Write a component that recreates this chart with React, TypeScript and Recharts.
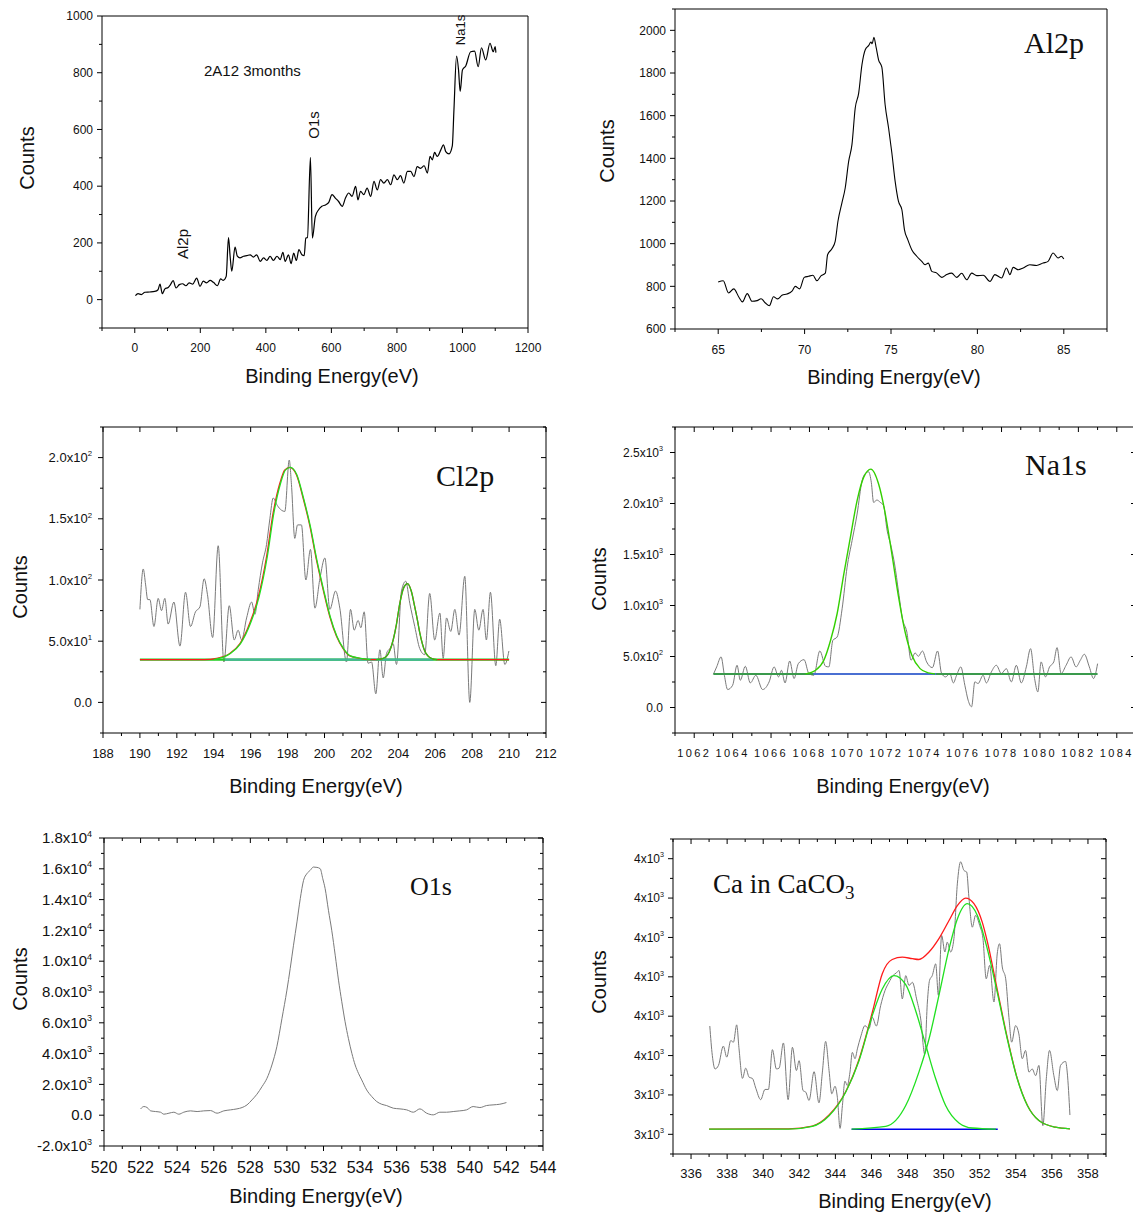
import React from "react";
import { LineChart, Line, XAxis, YAxis } from "recharts";

type Pt = [number, number];

// ---- survey scan (panel 1) ----
const SURVEY: Pt[] = [
  [2, 14], [10, 21], [20, 18], [31, 26], [46, 27], [61, 29], [71, 35], [77, 55], [84, 21], [92, 38],
  [102, 43], [109, 53], [117, 67], [126, 41], [136, 53], [146, 56], [156, 49], [166, 59], [177, 55], [189, 76],
  [199, 47], [209, 65], [219, 59], [230, 68], [240, 61], [252, 49], [262, 73], [270, 68], [279, 82], [286, 219],
  [291, 153], [296, 100], [306, 185], [313, 153], [321, 147], [332, 153], [342, 155], [352, 158], [362, 150], [372, 158],
  [383, 135], [393, 147], [403, 138], [413, 153], [423, 138], [434, 153], [444, 141], [452, 167], [459, 135], [469, 158],
  [477, 127], [485, 164], [493, 138], [501, 176], [510, 158], [517, 155], [522, 217], [527, 219], [536, 502], [542, 217],
  [551, 293], [561, 317], [571, 329], [582, 334], [592, 343], [602, 370], [612, 358], [622, 346], [633, 329], [643, 358],
  [653, 376], [663, 364], [674, 399], [681, 352], [689, 382], [699, 370], [709, 393], [720, 364], [730, 417], [740, 387],
  [750, 423], [760, 411], [771, 423], [781, 405], [791, 440], [801, 423], [811, 437], [821, 411], [832, 452], [842, 452],
  [852, 434], [862, 469], [872, 463], [883, 472], [893, 446], [901, 505], [908, 493], [915, 519], [923, 505], [934, 528],
  [942, 546], [949, 522], [959, 514], [969, 542], [974, 669], [982, 859], [988, 810], [993, 734], [1000, 810], [1010, 824],
  [1025, 874], [1037, 876], [1048, 821], [1058, 888], [1071, 845], [1084, 904], [1094, 874], [1100, 892], [1102, 871],
];

// ---- Al2p (panel 2) ----
const AL2P: Pt[] = [
  [65.0, 820], [65.29, 826], [65.6, 769], [65.9, 788], [66.2, 749], [66.4, 727], [66.68, 766], [66.96, 730], [67.25, 733], [67.48, 742],
  [67.73, 722], [67.96, 709], [68.2, 751], [68.44, 741], [68.69, 758], [68.98, 764], [69.27, 777], [69.46, 800], [69.71, 788], [69.98, 842],
  [70.23, 847], [70.48, 852], [70.71, 826], [70.96, 850], [71.2, 862], [71.33, 948], [71.58, 976], [71.77, 1011], [71.93, 1105], [72.16, 1191],
  [72.35, 1261], [72.55, 1386], [72.74, 1464], [72.93, 1636], [73.13, 1706], [73.32, 1839], [73.51, 1909], [73.7, 1928], [73.84, 1945], [73.91, 1937],
  [74.01, 1967], [74.14, 1920], [74.28, 1862], [74.47, 1827], [74.66, 1651], [74.86, 1542], [75.05, 1425], [75.24, 1292], [75.43, 1199], [75.63, 1159],
  [75.78, 1065], [75.97, 1019], [76.2, 972], [76.49, 941], [76.78, 917], [76.97, 901], [77.16, 909], [77.36, 870], [77.65, 862], [77.94, 842],
  [78.22, 855], [78.51, 862], [78.8, 842], [79.09, 861], [79.38, 831], [79.67, 862], [79.96, 850], [80.34, 852], [80.73, 823], [81.01, 855],
  [81.4, 839], [81.68, 886], [81.88, 855], [82.07, 889], [82.36, 878], [82.65, 886], [83.03, 901], [83.42, 898], [83.8, 909], [84.09, 917],
  [84.38, 956], [84.67, 933], [84.86, 941], [85.0, 928],
];

// ---- Cl2p (panel 3) ----
const CL2P_RAW: Pt[] = [
  [190.0, 76], [190.18, 109], [190.31, 96], [190.42, 84], [190.54, 84], [190.76, 62], [190.99, 85], [191.17, 75], [191.35, 85], [191.53, 64],
  [191.84, 82], [192.17, 46], [192.47, 90], [192.74, 62], [193.01, 74], [193.25, 78], [193.48, 101], [193.66, 88], [193.94, 53], [194.24, 128],
  [194.55, 33], [194.84, 79], [195.11, 51], [195.32, 59], [195.51, 51], [195.78, 69], [196.05, 82], [196.23, 72], [196.41, 92], [196.64, 114],
  [196.86, 129], [197.04, 150], [197.22, 167], [197.44, 161], [197.67, 157], [197.85, 156], [198.09, 198], [198.21, 178], [198.39, 134], [198.54, 145],
  [198.75, 145], [198.99, 100], [199.24, 125], [199.48, 77], [199.75, 101], [200.02, 118], [200.29, 76], [200.6, 91], [200.83, 77], [201.19, 33],
  [201.41, 76], [201.61, 59], [201.82, 67], [201.97, 61], [202.15, 74], [202.36, 32], [202.55, 33], [202.78, 7], [203.0, 43], [203.18, 20],
  [203.36, 40], [203.54, 44], [203.72, 48], [203.9, 31], [204.17, 91], [204.4, 99], [204.62, 81], [204.89, 62], [205.16, 44], [205.43, 39],
  [205.7, 89], [205.97, 51], [206.25, 73], [206.43, 36], [206.61, 69], [206.84, 58], [207.06, 76], [207.29, 55], [207.6, 103], [207.87, 0],
  [208.14, 76], [208.36, 59], [208.59, 76], [208.77, 51], [208.99, 90], [209.28, 30], [209.49, 68], [209.77, 31], [209.99, 42],
];
const CL2P_ENVELOPE: Pt[] = [
  [190, 35], [193.5, 35], [194.15, 36], [194.87, 40], [195.42, 48], [195.96, 65], [196.41, 86], [196.86, 119], [197.22, 155], [197.58, 179],
  [197.85, 190], [198.12, 192], [198.48, 186], [198.84, 167], [199.21, 144], [199.57, 116], [199.93, 92], [200.29, 70], [200.65, 54], [201.01, 44],
  [201.37, 38], [201.91, 36], [202.45, 35], [202.8, 35], [203.18, 36], [203.5, 41], [203.72, 51], [203.9, 64], [204.08, 81], [204.3, 94],
  [204.5, 97], [204.7, 91], [204.89, 78], [205.05, 66], [205.16, 57], [205.3, 48], [205.43, 42], [205.6, 38], [205.79, 36], [206.1, 35], [210, 35],
];
const CL2P_PEAK1: Pt[] = [
  [194.0, 35], [194.9, 40], [195.45, 48], [196.0, 65], [196.45, 86], [196.9, 119], [197.26, 155], [197.62, 179], [197.89, 190], [198.15, 192],
  [198.5, 186], [198.86, 167], [199.23, 144], [199.59, 116], [199.95, 92], [200.31, 70], [200.67, 54], [201.03, 44], [201.4, 38], [201.95, 36], [202.5, 35],
];
const CL2P_PEAK2: Pt[] = [
  [202.8, 35], [203.18, 36], [203.5, 41], [203.72, 51], [203.9, 64], [204.08, 81], [204.3, 94], [204.5, 97], [204.7, 91], [204.89, 78],
  [205.05, 66], [205.16, 57], [205.3, 48], [205.43, 42], [205.6, 38], [205.79, 36], [206.1, 35],
];
const CL2P_BASE: Pt[] = [[190, 35], [210, 35]];
const CL2P_BASE_MID: Pt[] = [[194.6, 35], [205.9, 35]];

// ---- Na1s (panel 4) ----
const NA1S_RAW: Pt[] = [
  [1063.0, 326], [1063.17, 398], [1063.4, 496], [1063.57, 316], [1063.74, 176], [1064.0, 218], [1064.23, 414], [1064.4, 267], [1064.66, 404], [1064.92, 241],
  [1065.21, 316], [1065.56, 176], [1065.9, 251], [1066.16, 398], [1066.39, 300], [1066.54, 365], [1066.73, 241], [1066.97, 456], [1067.2, 284], [1067.42, 430],
  [1067.72, 469], [1067.97, 333], [1068.23, 316], [1068.54, 554], [1068.84, 404], [1069.01, 398], [1069.22, 659], [1069.44, 691], [1069.7, 968], [1069.96, 1376],
  [1070.22, 1637], [1070.48, 1897], [1070.74, 2223], [1070.91, 2295], [1071.08, 2311], [1071.22, 2207], [1071.34, 2011], [1071.51, 2034], [1071.69, 2011], [1071.86, 1979],
  [1072.03, 1751], [1072.26, 1571], [1072.43, 1408], [1072.64, 1131], [1072.84, 870], [1073.07, 740], [1073.29, 463], [1073.5, 535], [1073.67, 502], [1073.88, 554],
  [1074.1, 447], [1074.4, 391], [1074.67, 554], [1074.88, 333], [1075.09, 300], [1075.31, 333], [1075.49, 241], [1075.66, 316], [1075.88, 398], [1076.09, 218],
  [1076.26, 72], [1076.44, 7], [1076.61, 251], [1076.78, 235], [1077.04, 316], [1077.21, 241], [1077.47, 349], [1077.73, 414], [1077.99, 333], [1078.25, 381],
  [1078.51, 251], [1078.77, 414], [1079.03, 241], [1079.29, 398], [1079.51, 577], [1079.72, 284], [1079.89, 153], [1080.06, 447], [1080.29, 300], [1080.5, 398],
  [1080.72, 447], [1080.89, 587], [1081.1, 333], [1081.36, 414], [1081.62, 496], [1081.88, 398], [1082.1, 463], [1082.31, 522], [1082.57, 398], [1082.79, 284], [1083.0, 430],
];
const NA1S_FIT: Pt[] = [
  [1067.8, 330], [1068.32, 365], [1068.75, 463], [1069.1, 659], [1069.44, 919], [1069.79, 1311], [1070.13, 1669], [1070.48, 2028], [1070.82, 2256], [1071.2, 2337],
  [1071.6, 2191], [1071.95, 1897], [1072.29, 1506], [1072.64, 1082], [1072.98, 740], [1073.33, 512], [1073.76, 381], [1074.19, 339], [1074.54, 329],
];
const NA1S_BASE: Pt[] = [[1063, 329], [1083, 329]];
const NA1S_BASE_MID: Pt[] = [[1068.2, 329], [1074.6, 329]];

// ---- O1s (panel 5) ----
const O1S_RAW: Pt[] = [
  [522.0, 410], [522.18, 562], [522.36, 497], [522.55, 281], [522.82, 238], [523.09, 194], [523.27, 65], [523.55, 130], [523.82, 194], [524.09, 65],
  [524.36, 194], [524.73, 281], [525.09, 238], [525.45, 281], [525.82, 302], [526.18, 130], [526.55, 281], [526.91, 346], [527.27, 410], [527.55, 497],
  [527.82, 670], [528.09, 994], [528.36, 1361], [528.64, 1858], [528.91, 2398], [529.18, 3262], [529.45, 4450], [529.73, 6286], [530.0, 8122], [530.18, 9526],
  [530.36, 11038], [530.55, 12550], [530.73, 14062], [530.91, 15250], [531.09, 15682], [531.27, 15898], [531.45, 16114], [531.64, 16092], [531.82, 16006], [531.96, 15358],
  [532.09, 14710], [532.27, 13306], [532.45, 12010], [532.64, 10390], [532.82, 8770], [533.0, 7366], [533.18, 6070], [533.36, 4990], [533.55, 4018], [533.73, 3262],
  [533.91, 2722], [534.09, 2290], [534.36, 1642], [534.64, 1210], [534.91, 886], [535.18, 713], [535.45, 626], [535.82, 454], [536.18, 410], [536.55, 346],
  [536.91, 194], [537.27, 410], [537.64, 130], [538.0, 22], [538.36, 194], [538.73, 194], [539.09, 238], [539.45, 281], [539.82, 346], [540.18, 562],
  [540.55, 497], [540.91, 626], [541.27, 670], [541.64, 713], [542.0, 821],
];

// ---- Ca in CaCO3 (panel 6) ----
const CA_RAW: Pt[] = [
  [337.04, 3575], [337.18, 3500], [337.33, 3466], [337.52, 3475], [337.79, 3524], [337.98, 3496], [338.2, 3538], [338.35, 3534], [338.53, 3578], [338.66, 3517],
  [338.85, 3442], [339.03, 3468], [339.22, 3445], [339.4, 3442], [339.59, 3417], [339.86, 3388], [340.1, 3414], [340.29, 3414], [340.51, 3515], [340.73, 3466],
  [340.88, 3468], [341.12, 3532], [341.38, 3388], [341.62, 3521], [341.84, 3462], [341.99, 3487], [342.21, 3411], [342.36, 3407], [342.54, 3386], [342.82, 3459],
  [343.09, 3380], [343.28, 3458], [343.46, 3536], [343.65, 3462], [343.8, 3403], [343.98, 3422], [344.11, 3394], [344.26, 3315], [344.39, 3373], [344.53, 3435],
  [344.66, 3424], [344.81, 3458], [344.94, 3508], [345.09, 3492], [345.22, 3517], [345.4, 3547], [345.64, 3576], [345.86, 3568], [346.05, 3597], [346.27, 3575],
  [346.51, 3627], [346.75, 3665], [346.97, 3686], [347.19, 3703], [347.38, 3710], [347.53, 3716], [347.71, 3644], [347.9, 3703], [348.08, 3678], [348.27, 3686],
  [348.5, 3644], [348.73, 3593], [348.95, 3504], [349.1, 3636], [349.22, 3691], [349.37, 3703], [349.56, 3733], [349.71, 3653], [349.89, 3805], [350.07, 3763],
  [350.2, 3788], [350.39, 3763], [350.57, 3797], [350.76, 3936], [350.94, 3992], [351.13, 3970], [351.28, 3966], [351.4, 3903], [351.59, 3826], [351.77, 3856],
  [352.0, 3830], [352.18, 3797], [352.36, 3695], [352.55, 3729], [352.79, 3636], [352.97, 3758], [353.1, 3784], [353.25, 3725], [353.44, 3695], [353.62, 3597],
  [353.77, 3534], [353.99, 3576], [354.17, 3555], [354.36, 3492], [354.54, 3513], [354.73, 3458], [354.91, 3466], [355.1, 3449], [355.28, 3475], [355.5, 3322],
  [355.69, 3441], [355.87, 3513], [356.11, 3449], [356.3, 3411], [356.48, 3475], [356.76, 3485], [356.85, 3458], [357.0, 3349],
];
const CA_ENVELOPE: Pt[] = [
  [337, 3313], [341.4, 3314], [342.72, 3321], [343.65, 3349], [344.57, 3408], [345.31, 3490], [346.05, 3610], [346.6, 3708], [347.15, 3744], [347.71, 3750],
  [348.27, 3746], [348.63, 3744], [349.19, 3763], [349.74, 3797], [350.3, 3843], [350.76, 3881], [351.22, 3900], [351.68, 3886], [352.14, 3839], [352.42, 3790],
  [352.97, 3668], [353.53, 3545], [354.08, 3442], [354.64, 3374], [355.28, 3335], [356.2, 3318], [357, 3314],
];
const CA_PEAK_A: Pt[] = [
  [337, 3313], [341.4, 3313], [342.72, 3320], [343.65, 3347], [344.57, 3407], [345.31, 3487], [346.05, 3602], [346.6, 3669], [347.25, 3703], [347.9, 3680],
  [348.45, 3614], [349.0, 3528], [349.56, 3441], [350.11, 3373], [350.85, 3329], [351.59, 3316], [352.9, 3313],
];
const CA_PEAK_B: Pt[] = [
  [344.9, 3313], [346.79, 3320], [347.9, 3373], [348.63, 3458], [349.19, 3542], [349.74, 3653], [350.3, 3771], [350.76, 3847], [351.31, 3886], [351.87, 3856],
  [352.42, 3771], [352.97, 3661], [353.53, 3542], [354.08, 3441], [354.64, 3373], [355.28, 3335], [356.2, 3318], [357, 3314],
];
const CA_BASE: Pt[] = [[344.9, 3313], [353.0, 3313]];

// ---- tick helpers ----
const range = (a: number, b: number, s: number) => {
  const out: number[] = [];
  for (let v = a; v <= b + s * 1e-6; v += s) out.push(Math.round(v * 1000) / 1000);
  return out;
};

type Lbl = { base: string; sup?: string };
const plain = (v: number): Lbl => ({ base: String(v) });
const sci = (digits: number) => (v: number): Lbl => {
  if (v === 0) return { base: "0.0" };
  const exp = Math.floor(Math.log10(Math.abs(v)));
  const mant = v / Math.pow(10, exp);
  return { base: `${mant.toFixed(digits)}x10`, sup: String(exp) };
};

type AxisSpec = {
  domain: [number, number];
  ticks: number[];
  major: number;
  fontSize: number;
  gap: number;
  fmt: (v: number) => Lbl;
  letterSpacing?: number;
};

type Series = { pts: Pt[]; color: string; width: number };

const SANS = "'Liberation Sans', Arial, Helvetica, sans-serif";
const SERIF = "'Liberation Serif', 'Times New Roman', serif";
const AXIS_LINE = { stroke: "#000", strokeWidth: 1 };

const isMajor = (v: number, step: number) => Math.abs(v / step - Math.round(v / step)) < 1e-6;

function TickMark(props: any) {
  const { x, y, payload, side, spec, marks } = props;
  const v = payload.value as number;
  if (marks === false) return <g />;
  const major = isMajor(v, spec.major);
  const len = major ? 5 : 3;
  const lineProps = { stroke: "#000", strokeWidth: 1 };
  const fs = spec.fontSize as number;
  const renderText = (tx: number, ty: number, anchor: string) => {
    const l: Lbl = spec.fmt(v);
    return (
      <text x={tx} y={ty} textAnchor={anchor} fontSize={fs} fontFamily={SANS} fill="#111"
        letterSpacing={spec.letterSpacing || 0}>
        <tspan>{l.base}</tspan>
        {l.sup && <tspan dy={-fs * 0.45} fontSize={fs * 0.6}>{l.sup}</tspan>}
      </text>
    );
  };
  if (side === "bottom") {
    return (
      <g>
        <line x1={x} y1={y} x2={x} y2={y + len} {...lineProps} />
        {major && renderText(x, y + spec.gap, "middle")}
      </g>
    );
  }
  if (side === "left") {
    return (
      <g>
        <line x1={x} y1={y} x2={x - len} y2={y} {...lineProps} />
        {major && renderText(x - spec.gap, y + fs * 0.35, "end")}
      </g>
    );
  }
  if (side === "top") {
    return <line x1={x} y1={y} x2={x} y2={y + len} {...lineProps} />;
  }
  return <line x1={x} y1={y} x2={x - len} y2={y} {...lineProps} />;
}

type PanelProps = {
  rect: [number, number, number, number];
  xs: AxisSpec;
  ys: AxisSpec;
  topTicks?: number[];
  rightTicks?: number[];
  series: Series[];
};

const YW = 80;
const XH = 40;
const MT = 10;
const MR = 30;

function Panel({ rect, xs, ys, topTicks, rightTicks, series }: PanelProps) {
  const [L, T, W, H] = rect;
  const hasTop = !!(topTicks && topTicks.length);
  const hasRight = !!(rightTicks && rightTicks.length);
  return (
    <div style={{ position: "absolute", left: L - YW, top: T - MT }}>
      <LineChart width={W + YW + MR} height={H + MT + XH} margin={{ top: MT - 1, right: MR - 1, bottom: 0, left: 0 }}>
        <XAxis xAxisId="b" type="number" dataKey="x" domain={xs.domain} ticks={xs.ticks} interval={0}
          allowDataOverflow height={XH} tickSize={0} tickMargin={0} tickLine={false} axisLine={AXIS_LINE}
          tick={(p: any) => <TickMark {...p} side="bottom" spec={xs} />} />
        <XAxis xAxisId="t" orientation="top" type="number" dataKey="x" domain={xs.domain}
          ticks={hasTop ? topTicks : xs.ticks} interval={0}
          allowDataOverflow height={1} tickSize={0} tickMargin={0} tickLine={false} axisLine={AXIS_LINE}
          tick={(p: any) => <TickMark {...p} side="top" spec={xs} marks={hasTop} />} />
        <YAxis yAxisId="l" type="number" domain={ys.domain} ticks={ys.ticks} interval={0}
          allowDataOverflow width={YW} tickSize={0} tickMargin={0} tickLine={false} axisLine={AXIS_LINE}
          tick={(p: any) => <TickMark {...p} side="left" spec={ys} />} />
        <YAxis yAxisId="r" orientation="right" type="number" domain={ys.domain}
          ticks={hasRight ? rightTicks : ys.ticks} interval={0}
          allowDataOverflow width={1} tickSize={0} tickMargin={0} tickLine={false} axisLine={AXIS_LINE}
          tick={(p: any) => <TickMark {...p} side="right" spec={ys} marks={hasRight} />} />
        {/* invisible series so the top and right frame axes get drawn */}
        <Line xAxisId="t" yAxisId="r" data={series[0].pts.map(([x, y]) => ({ x, y }))} dataKey="y"
          stroke="none" dot={false} activeDot={false} isAnimationActive={false} />
        {series.map((s, i) => (
          <Line key={i} xAxisId="b" yAxisId="l" data={s.pts.map(([x, y]) => ({ x, y }))} dataKey="y"
            type="monotone" stroke={s.color} strokeWidth={s.width} dot={false} activeDot={false}
            isAnimationActive={false} />
        ))}
      </LineChart>
    </div>
  );
}

const GRAY = "#7a7a7a";
const RED = "#ff1a1a";
const GREEN = "#1fe01f";

const PANELS: PanelProps[] = [
  {
    rect: [102, 16, 426, 312],
    xs: { domain: [-100, 1200], ticks: range(-100, 1200, 100), major: 200, fontSize: 12, gap: 24, fmt: plain },
    ys: { domain: [-100, 1000], ticks: range(-100, 1000, 100), major: 200, fontSize: 12, gap: 9, fmt: plain },
    series: [{ pts: SURVEY, color: "#000", width: 1.2 }],
  },
  {
    rect: [675, 9, 432, 320],
    xs: { domain: [62.5, 87.5], ticks: range(62.5, 87.5, 2.5), major: 5, fontSize: 12, gap: 25, fmt: plain },
    ys: { domain: [600, 2100], ticks: range(600, 2100, 100), major: 200, fontSize: 12, gap: 9, fmt: plain },
    series: [{ pts: AL2P, color: "#000", width: 1.1 }],
  },
  {
    rect: [103, 427, 443, 306],
    xs: { domain: [188, 212], ticks: range(188, 212, 1), major: 2, fontSize: 13, gap: 24.5, fmt: plain },
    ys: { domain: [-25, 225], ticks: range(-25, 225, 25), major: 50, fontSize: 13, gap: 11, fmt: sci(1) },
    topTicks: range(188, 212, 2),
    rightTicks: range(-25, 225, 25),
    series: [
      { pts: CL2P_RAW, color: GRAY, width: 1 },
      { pts: CL2P_BASE, color: "#22cc22", width: 2.2 },
      { pts: CL2P_BASE_MID, color: "#45b39a", width: 2.2 },
      { pts: CL2P_ENVELOPE, color: RED, width: 1.3 },
      { pts: CL2P_PEAK1, color: GREEN, width: 1.3 },
      { pts: CL2P_PEAK2, color: "#22c81a", width: 1.3 },
    ],
  },
  {
    rect: [675, 427, 461, 306],
    xs: { domain: [1061, 1085], ticks: range(1061, 1085, 1), major: 2, fontSize: 11, gap: 24, fmt: plain, letterSpacing: 2.4 },
    ys: { domain: [-250, 2750], ticks: range(-250, 2750, 250), major: 500, fontSize: 12, gap: 12, fmt: sci(1) },
    topTicks: range(1061, 1085, 1),
    rightTicks: range(0, 2500, 500),
    series: [
      { pts: NA1S_RAW, color: GRAY, width: 1 },
      { pts: NA1S_BASE, color: "#3a9a4c", width: 2 },
      { pts: NA1S_BASE_MID, color: "#5060ff", width: 1.5 },
      { pts: NA1S_FIT, color: "#33d000", width: 1.4 },
    ],
  },
  {
    rect: [104, 838, 439, 308],
    xs: { domain: [520, 544], ticks: range(520, 544, 1), major: 2, fontSize: 16, gap: 27, fmt: plain },
    ys: { domain: [-2000, 18000], ticks: range(-2000, 18000, 1000), major: 2000, fontSize: 15, gap: 12, fmt: sci(1) },
    topTicks: range(520, 544, 1),
    rightTicks: range(-2000, 18000, 1000),
    series: [{ pts: O1S_RAW, color: GRAY, width: 1 }],
  },
  {
    rect: [673, 839, 433, 315],
    xs: { domain: [335, 359], ticks: range(335, 359, 1), major: 2, fontSize: 13, gap: 23.5, fmt: plain },
    ys: { domain: [3250, 4050], ticks: range(3250, 4050, 50), major: 100, fontSize: 12, gap: 9, fmt: sci(0) },
    topTicks: range(335, 359, 1),
    rightTicks: range(3250, 4050, 50),
    series: [
      { pts: CA_RAW, color: GRAY, width: 1 },
      { pts: CA_BASE, color: "#0000ee", width: 1.4 },
      { pts: CA_ENVELOPE, color: RED, width: 1.3 },
      { pts: CA_PEAK_A, color: GREEN, width: 1.3 },
      { pts: CA_PEAK_B, color: GREEN, width: 1.3 },
    ],
  },
];

// axis titles: [centre x, baseline y] for "Binding Energy(eV)", [baseline x, centre y] for "Counts"
const X_TITLES: Pt[] = [[332, 383], [894, 384], [316, 792.5], [903, 792.5], [316, 1202.5], [905, 1207.5]];
const Y_TITLES: Pt[] = [[34, 158], [614, 151], [27, 587], [606, 579], [27, 979], [606, 982]];

export default function App() {
  return (
    <div style={{ position: "absolute", left: 0, top: 0, width: 1133, height: 1214, overflow: "hidden", background: "#fff" }}>
      {PANELS.map((p, i) => <Panel key={i} {...p} />)}
      <svg width={1133} height={1214} style={{ position: "absolute", left: 0, top: 0, pointerEvents: "none" }}>
        {X_TITLES.map(([x, y], i) => (
          <text key={"x" + i} x={x} y={y} textAnchor="middle" fontSize={20} fontFamily={SANS} fill="#111">Binding Energy(eV)</text>
        ))}
        {Y_TITLES.map(([x, y], i) => (
          <text key={"y" + i} x={x} y={y} textAnchor="middle" fontSize={20} fontFamily={SANS} fill="#111"
            transform={`rotate(-90 ${x} ${y})`}>Counts</text>
        ))}
        {/* survey annotations */}
        <text x={204} y={75.5} fontSize={15} fontFamily={SANS} fill="#111">2A12 3months</text>
        <text x={187.5} y={244} fontSize={15} fontFamily={SANS} fill="#111" textAnchor="middle" transform="rotate(-90 187.5 244)">Al2p</text>
        <text x={319} y={125} fontSize={15} fontFamily={SANS} fill="#111" textAnchor="middle" transform="rotate(-90 319 125)">O1s</text>
        <text x={464.5} y={30} fontSize={13} fontFamily={SANS} fill="#111" textAnchor="middle" transform="rotate(-90 464.5 30)">Na1s</text>
        {/* panel titles */}
        <text x={1024} y={53} fontSize={30} fontFamily={SERIF} fill="#111">Al2p</text>
        <text x={436} y={486} fontSize={30} fontFamily={SERIF} fill="#111">Cl2p</text>
        <text x={1025} y={475} fontSize={30} fontFamily={SERIF} fill="#111">Na1s</text>
        <text x={410} y={895} fontSize={26} fontFamily={SERIF} fill="#111">O1s</text>
        <text x={713} y={893} fontSize={27} fontFamily={SERIF} fill="#111">
          <tspan>Ca in CaCO</tspan>
          <tspan dy={6} fontSize={19}>3</tspan>
        </text>
      </svg>
    </div>
  );
}
